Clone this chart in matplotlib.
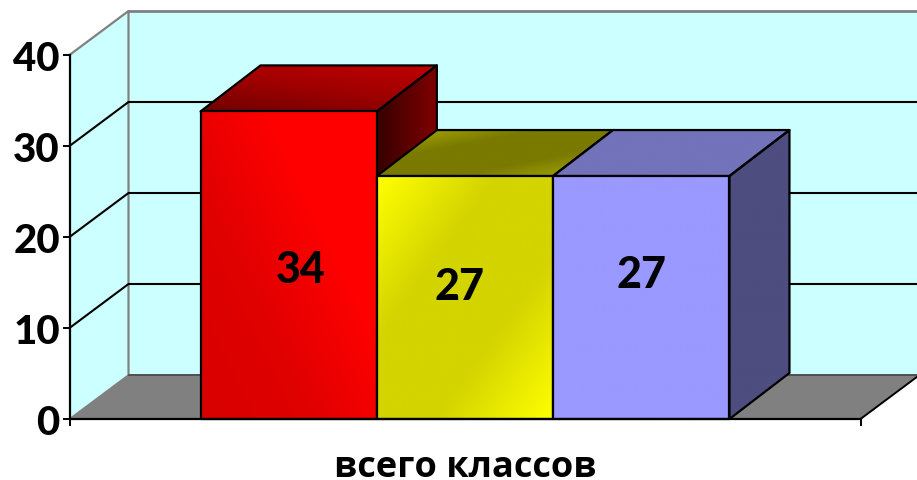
import matplotlib
matplotlib.use('Agg')
import matplotlib.pyplot as plt
import numpy as np
from matplotlib.colors import LinearSegmentedColormap
from matplotlib.patches import Polygon

# bar heights as drawn on the axis, printed labels are rounded
categories = ['всего классов']
series_values = [33.8, 26.7, 26.7]
value_labels = ['34', '27', '27']
y_ticks = [0, 10, 20, 30, 40]

W, H = 917, 481
fig = plt.figure(figsize=(W / 100, H / 100), dpi=100, facecolor='white')
ax = fig.add_axes([69.5 / W, (H - 420) / H, 791 / W, 364 / H])
ax.set_xlim(0, 1)
ax.set_ylim(0, 40)

# depth of the fake 3d box, in data units
wall_dx = 59 / 791
wall_dy = 44 / 9.1
bar_dx = 60 / 791
bar_dy = 46 / 9.1
bar_w = 176.3 / 791


def poly(pts, fc, ec='black', lw=1.6, z=2):
    p = Polygon(pts, closed=True, facecolor=fc, edgecolor=ec, linewidth=lw,
                zorder=z, clip_on=False, joinstyle='round')
    ax.add_patch(p)
    return p


def gradient(pts, colors, angle, z):
    # filled polygon with a linear gradient clipped to it
    pts = np.array(pts)
    x0, x1 = pts[:, 0].min(), pts[:, 0].max()
    y0, y1 = pts[:, 1].min(), pts[:, 1].max()
    gx, gy = np.meshgrid(np.linspace(0, 1, 200), np.linspace(0, 1, 200))
    a = np.radians(angle)
    g = gx * np.cos(a) + gy * np.sin(a)
    g = (g - g.min()) / (g.max() - g.min())
    cmap = LinearSegmentedColormap.from_list('g', colors)
    edge = poly(pts, 'none', z=z + 0.1)
    im = ax.imshow(g, extent=(x0, x1, y0, y1), origin='lower', aspect='auto',
                   cmap=cmap, zorder=z, interpolation='bilinear')
    clip = Polygon(pts, closed=True, transform=ax.transData)
    im.set_clip_path(clip)
    return edge


# walls and floor
right_end = 1 + wall_dx
poly([(wall_dx, wall_dy), (right_end, wall_dy), (right_end, 40 + wall_dy), (wall_dx, 40 + wall_dy)],
     '#CCFFFF', ec='none', lw=0, z=0)
poly([(0, 0), (wall_dx, wall_dy), (wall_dx, 40 + wall_dy), (0, 40)], '#CCFFFF', ec='none', lw=0, z=0)
poly([(0, 0), (1, 0), (right_end, wall_dy), (wall_dx, wall_dy)], '#808080', ec='none', lw=0, z=0.5)

ax.plot([0, wall_dx, wall_dx], [40, 40 + wall_dy, wall_dy], color='#808080', lw=1.6, zorder=0.6, clip_on=False)
ax.plot([wall_dx, right_end], [40 + wall_dy] * 2, color='#808080', lw=2, zorder=0.6, clip_on=False)
ax.plot([0, wall_dx], [0, wall_dy], color='#808080', lw=1.2, zorder=0.6, clip_on=False)
ax.plot([wall_dx, right_end], [wall_dy] * 2, color='#505050', lw=1.4, zorder=0.6, clip_on=False)
ax.plot([1, right_end], [0, wall_dy], color='black', lw=1.4, zorder=0.6, clip_on=False)

for t in y_ticks[1:-1]:
    ax.plot([0, wall_dx, right_end], [t, t + wall_dy, t + wall_dy], color='black', lw=1.5,
            zorder=0.7, clip_on=False)

# bars
front_styles = [
    (['#D80000', '#E00000', '#FF0000', '#FF0000'], 40),
    (['#FFFF00', '#D4D400', '#D4D400', '#FFFF00'], -45),
    (['#9999FF', '#9999FF'], 0),
]
top_styles = [
    (['#700000', '#A00000', '#C00000'], 60),
    (['#B0B000', '#7A7A00', '#7A7A00', '#B0B000'], -45),
    (['#7373BB', '#7373BB'], 0),
]
side_styles = [
    (['#360000', '#800000'], 0),
    (['#7A7A00', '#7A7A00'], 0),
    (['#4D4D80', '#4D4D80'], 0),
]

bar_left = 0.5 - len(series_values) * bar_w / 2
for i, v in enumerate(series_values):
    x0 = bar_left + i * bar_w
    x1 = x0 + bar_w
    z = 2 + i
    gradient([(x1, 0), (x1 + bar_dx, bar_dy), (x1 + bar_dx, v + bar_dy), (x1, v)], *side_styles[i], z)
    gradient([(x0, v), (x1, v), (x1 + bar_dx, v + bar_dy), (x0 + bar_dx, v + bar_dy)], *top_styles[i], z)
    gradient([(x0, 0), (x1, 0), (x1, v), (x0, v)], *front_styles[i], z + 0.3)

ax.set_xlim(0, 1)
ax.set_ylim(0, 40)

# value labels, placed by hand like in the source chart (pixels from bar centre / bar middle)
label_shift = [(12, -4), (-5, 12), (0, 24)]
for i, v in enumerate(series_values):
    xc = bar_left + (i + 0.5) * bar_w
    ax.annotate(value_labels[i], xy=(xc, v / 2), xytext=label_shift[i], textcoords='offset pixels',
                ha='center', va='center', fontsize=31, fontweight=900, family='Lato',
                color='black', zorder=10)

# axes
for s in ['top', 'right']:
    ax.spines[s].set_visible(False)
for s in ['left', 'bottom']:
    ax.spines[s].set_linewidth(1.6)
    ax.spines[s].set_zorder(9)
ax.patch.set_visible(False)
ax.set_yticks(y_ticks)
ax.set_yticklabels([str(t) for t in y_ticks], fontsize=29, fontweight=900, family='Lato')
ax.set_xticks([0, 1])
ax.set_xticklabels(['', ''])
ax.tick_params(axis='y', length=5, width=1.4, pad=2)
ax.tick_params(axis='x', length=5, width=1.4)
ax.text(0.5, -0.1566, categories[0], transform=ax.transAxes, ha='center', va='baseline',
        fontsize=26, fontweight='bold', family='Open Sans')

fig.savefig('out.png', dpi=100)
